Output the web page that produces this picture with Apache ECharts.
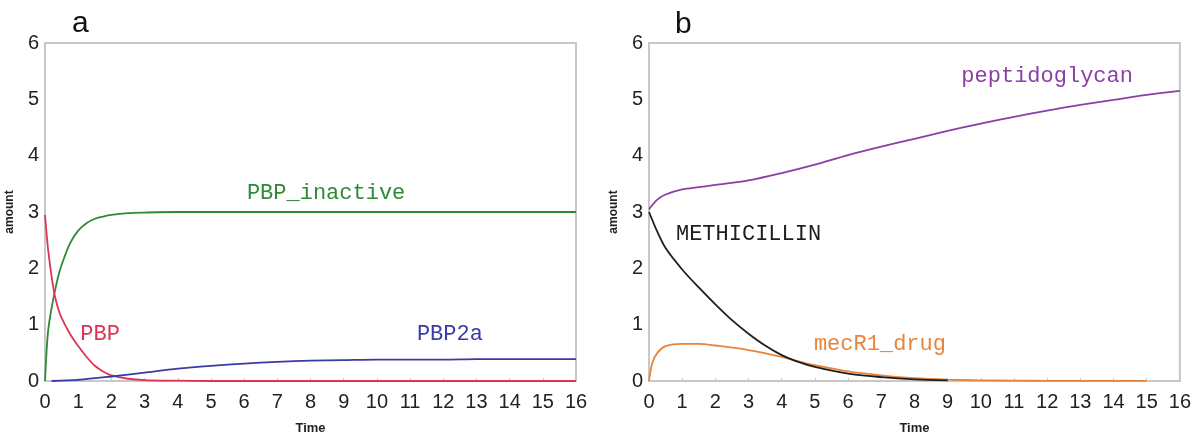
<!DOCTYPE html>
<html>
<head>
<meta charset="utf-8">
<script src="https://cdn.jsdelivr.net/npm/echarts@6/dist/echarts.min.js"></script>
<style>html,body{margin:0;padding:0;background:#fff;}#c{width:1194px;height:440px;}</style>
</head>
<body>
<div id="c"></div>
<script>
// Panel a
const tA = [0,0.05,0.1,0.2,0.3,0.4,0.5,0.75,1,1.25,1.5,1.75,2,2.5,3,4,5,6,7,8,9,10,11,12,13,14,15,16];
const pbp = [2.95,2.6,2.3,1.85,1.5,1.28,1.12,0.84,0.62,0.43,0.27,0.17,0.1,0.04,0.015,0.005,0,0,0,0,0,0,0,0,0,0,0,0];
const pbpInactive = [0,0.55,0.92,1.3,1.6,1.86,2.06,2.44,2.67,2.8,2.88,2.92,2.95,2.98,2.99,3,3,3,3,3,3,3,3,3,3,3,3,3];
const tBlue = [0.2,1,2,3,4,5,6,7,8,9,10,11,12,13,14,15,16];
const pbp2a = [0,0.02,0.08,0.15,0.22,0.27,0.31,0.34,0.36,0.37,0.38,0.38,0.38,0.39,0.39,0.39,0.39];

// Panel b
const tPep = [0,0.25,0.5,1,1.5,2,3,4,5,6,7,8,9,10,11,12,13,14,15,16];
const peptidoglycan = [3.05,3.22,3.31,3.4,3.44,3.48,3.56,3.69,3.84,4.01,4.16,4.3,4.44,4.57,4.69,4.8,4.9,4.99,5.08,5.15];
const tMet = [0,0.25,0.5,1,1.5,2,2.5,3,3.5,4,4.5,5,6,7,8,9];
const methicillin = [3.0,2.65,2.36,1.98,1.66,1.36,1.08,0.84,0.63,0.46,0.34,0.25,0.13,0.07,0.03,0.01];
const tMec = [0,0.1,0.25,0.5,1,1.5,2,3,4,4.5,5,6,7,8,9,10,11,12,13,14,15];
const mecR1 = [0,0.32,0.5,0.62,0.66,0.66,0.63,0.55,0.43,0.35,0.28,0.17,0.1,0.05,0.025,0.012,0.006,0.003,0.002,0.001,0.001];

const xTicks = ['0','1','2','3','4','5','6','7','8','9','10','11','12','13','14','15','16'];
const yTicks = ['0','1','2','3','4','5','6'];

// line labels [text, t, value]
const labelsA = [['PBP_inactive',8.47,3.33],['PBP',1.66,0.84],['PBP2a',12.2,0.84]];
const labelsB = [['peptidoglycan',12.0,5.42],['METHICILLIN',3.0,2.61],['mecR1_drug',6.96,0.65]];

const zip = (t,v) => t.map((x,i)=>[x,v[i]]);
const monoFont = "'Courier New','Liberation Mono',monospace";

function xAxis(gi){
  return {gridIndex:gi,type:'value',min:0,max:16,interval:1,
    name:'Time',nameLocation:'middle',nameGap:41,
    nameTextStyle:{fontFamily:'Liberation Sans Narrow, Arial',fontSize:13,color:'#222',fontWeight:'bold'},
    axisLine:{show:false},
    axisTick:{show:true,inside:true,length:3,lineStyle:{color:'#c8c8c8'}},
    splitLine:{show:false},
    axisLabel:{fontFamily:'Liberation Sans, Arial',fontSize:20,color:'#222',margin:11,
      formatter:v=>xTicks[Math.round(v)]}};
}
function yAxis(gi){
  return {gridIndex:gi,type:'value',min:0,max:6,interval:1,
    name:'amount',nameLocation:'middle',nameGap:29,
    nameTextStyle:{fontFamily:'Liberation Sans Narrow, Arial',fontSize:12,color:'#222',fontWeight:'bold'},
    axisLine:{show:false},axisTick:{show:false},splitLine:{show:false},
    axisLabel:{fontFamily:'Liberation Sans, Arial',fontSize:20,color:'#222',margin:6,
      formatter:v=>yTicks[Math.round(v)]}};
}
function line(gi,data,color,lab){
  const s = {type:'line',xAxisIndex:gi,yAxisIndex:gi,data:data,showSymbol:false,symbol:'none',
    smooth:0.3,lineStyle:{color:color,width:1.8},itemStyle:{color:color},z:3};
  if(lab){
    s.markPoint={symbol:'circle',symbolSize:0,silent:true,
      data:[{coord:[lab[1],lab[2]],value:lab[0]}],
      label:{show:true,position:'inside',formatter:lab[0],fontFamily:monoFont,fontSize:22,color:color}};
  }
  return s;
}

const chart = echarts.init(document.getElementById('c'),null,{renderer:'canvas'});
chart.setOption({
  backgroundColor:'#fff',
  animation:false,
  title:[
    {text:'a',left:67,top:4,textStyle:{fontFamily:'Liberation Sans, Arial',fontSize:30,fontWeight:'normal',color:'#111'}},
    {text:'b',left:670,top:5,textStyle:{fontFamily:'Liberation Sans, Arial',fontSize:30,fontWeight:'normal',color:'#111'}}
  ],
  grid:[
    {left:45,top:43,width:531,height:342,show:true,borderColor:'#c8c8c8',borderWidth:2,backgroundColor:'#fff'},
    {left:649,top:43,width:531,height:342,show:true,borderColor:'#c8c8c8',borderWidth:2,backgroundColor:'#fff'}
  ],
  xAxis:[xAxis(0),xAxis(1)],
  yAxis:[yAxis(0),yAxis(1)],
  series:[
    line(0,zip(tA,pbpInactive),'#2e8a34',labelsA[0]),
    line(0,zip(tA,pbp),'#dc3458',labelsA[1]),
    line(0,zip(tBlue,pbp2a),'#3a3aa8',labelsA[2]),
    line(1,zip(tPep,peptidoglycan),'#8b3fa6',labelsB[0]),
    line(1,zip(tMec,mecR1),'#e8843c',labelsB[2]),
    line(1,zip(tMet,methicillin),'#1e1e1e',labelsB[1])
  ]
});
</script>
</body>
</html>
